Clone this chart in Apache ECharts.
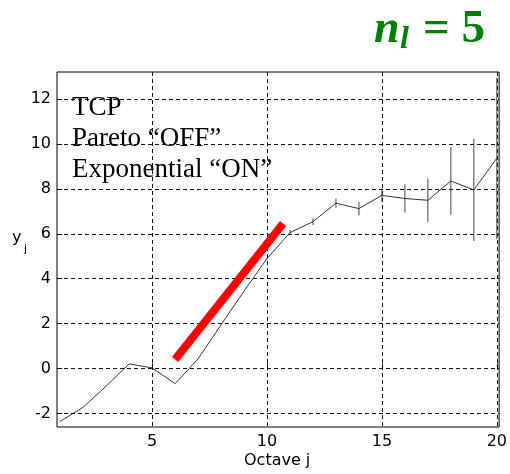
<!DOCTYPE html>
<html>
<head>
<meta charset="utf-8">
<script src="https://cdn.jsdelivr.net/npm/echarts@6/dist/echarts.min.js"></script>
<style>html,body{margin:0;padding:0;background:#fff}#c{width:510px;height:474px}</style>
</head>
<body>
<div id="c"></div>
<script>
const octave = [1,2,3,4,5,6,7,8,9,10,11,12,13,14,15,16,17,18,19,20];
const yj = [-2.35,-1.72,-0.78,0.21,0.03,-0.67,0.43,1.95,3.45,4.9,6.05,6.54,7.36,7.12,7.71,7.57,7.49,8.35,7.95,9.36];
const errHalf = [0,0,0,0,0,0,0,0,0,0.05,0.12,0.15,0.2,0.3,0.3,0.63,0.97,1.5,2.27,3.6];
const fitX = [6, 10.7];
const fitY = [0.4, 6.46];
const xTicks = [5,10,15,20];
const yTicks = [-2,0,2,4,6,8,10,12];
const notes = ['TCP','Pareto \u201cOFF\u201d','Exponential \u201cON\u201d'];

const chart = echarts.init(document.getElementById('c'));
const gridDash = {show:true, lineStyle:{color:'#111', width:1, type:[4,3]}};
const axFont = 'DejaVu Sans';
chart.setOption({
  animation:false,
  grid:{left:57, top:72, right:9, bottom:47, show:true, borderColor:'#000', borderWidth:1, backgroundColor:'transparent'},
  xAxis:{type:'value', min:0.86, max:20.1,
    axisLine:{show:false},
    axisTick:{show:true, inside:true, length:5, lineStyle:{color:'#000'}, customValues:xTicks},
    axisLabel:{customValues:xTicks, color:'#000', fontFamily:axFont, fontSize:16, margin:7},
    splitLine:gridDash},
  yAxis:{type:'value', min:-2.6, max:13.2,
    axisLine:{show:false},
    axisTick:{show:true, inside:true, length:5, lineStyle:{color:'#000'}, customValues:yTicks},
    axisLabel:{customValues:yTicks, color:'#000', fontFamily:axFont, fontSize:16, margin:6},
    splitLine:gridDash},
  series:[
    {type:'line', data:octave.map((x,i)=>[x,yj[i]]), symbol:'none', lineStyle:{color:'#333', width:1}, z:3},
    {type:'custom', clip:true, z:3,
      data:octave.map((x,i)=>[x,yj[i],errHalf[i]]),
      renderItem:function(params, api){
        const x = api.value(0), y = api.value(1), e = api.value(2);
        if(!e) return null;
        const p1 = api.coord([x, y-e]);
        const p2 = api.coord([x, y+e]);
        return {type:'line', shape:{x1:p1[0], y1:p1[1], x2:p2[0], y2:p2[1]}, style:{stroke:'#444', lineWidth:1}};
      }},
    {type:'line', data:fitX.map((x,i)=>[x,fitY[i]]), symbol:'none', lineStyle:{color:'#ff0000', width:8, cap:'butt'}, z:4}
  ],
  graphic:[
    {type:'text', left:72, top:92, style:{text:notes.join('\n'), font:'27px "Liberation Serif"', lineHeight:31, fill:'#000'}},
    {type:'text', left:12, top:230, style:{text:'y', font:'16px "DejaVu Sans"', fill:'#000'}},
    {type:'text', left:24, top:244, style:{text:'j', font:'11px "DejaVu Sans"', fill:'#000'}},
    {type:'text', left:244, top:453, style:{text:'Octave j', font:'16px "DejaVu Sans"', fill:'#000'}},
    {type:'text', left:374, top:7, style:{text:'n', font:'italic bold 46px "Liberation Serif"', fill:'#008000'}},
    {type:'text', left:400, top:24, style:{text:'l', font:'italic bold 32px "Liberation Serif"', fill:'#008000'}},
    {type:'text', left:423, top:6, style:{text:'= 5', font:'bold 47px "Liberation Serif"', fill:'#008000'}}
  ]
});
</script>
</body>
</html>
